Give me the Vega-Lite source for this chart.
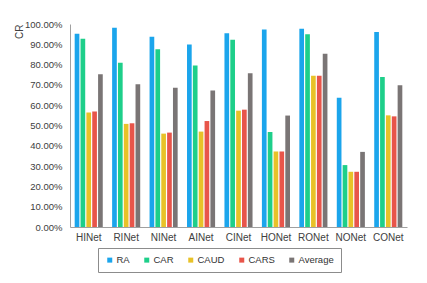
{
  "$schema": "https://vega.github.io/schema/vega-lite/v6.json",
  "autosize": "none",
  "width": 337,
  "height": 203,
  "padding": {"left": 70, "top": 24, "right": 20, "bottom": 56},
  "background": "white",
  "config": {
    "font": "Liberation Sans",
    "view": {"stroke": null},
    "axis": {"labelColor": "#404040", "domainColor": "#a0a0a0", "domainWidth": 1, "ticks": false, "grid": false, "labelFontSize": 9.5},
    "legend": {"labelColor": "#333333", "labelFontSize": 9.5}
  },
  "data": {
    "values": [
      {"net": "HINet", "metric": "RA", "value": 0.952},
      {"net": "HINet", "metric": "CAR", "value": 0.927},
      {"net": "HINet", "metric": "CAUD", "value": 0.564},
      {"net": "HINet", "metric": "CARS", "value": 0.569},
      {"net": "HINet", "metric": "Average", "value": 0.752},
      {"net": "RINet", "metric": "RA", "value": 0.981},
      {"net": "RINet", "metric": "CAR", "value": 0.809},
      {"net": "RINet", "metric": "CAUD", "value": 0.508},
      {"net": "RINet", "metric": "CARS", "value": 0.511},
      {"net": "RINet", "metric": "Average", "value": 0.703},
      {"net": "NINet", "metric": "RA", "value": 0.937},
      {"net": "NINet", "metric": "CAR", "value": 0.876},
      {"net": "NINet", "metric": "CAUD", "value": 0.460},
      {"net": "NINet", "metric": "CARS", "value": 0.465},
      {"net": "NINet", "metric": "Average", "value": 0.686},
      {"net": "AINet", "metric": "RA", "value": 0.899},
      {"net": "AINet", "metric": "CAR", "value": 0.796},
      {"net": "AINet", "metric": "CAUD", "value": 0.470},
      {"net": "AINet", "metric": "CARS", "value": 0.522},
      {"net": "AINet", "metric": "Average", "value": 0.672},
      {"net": "CINet", "metric": "RA", "value": 0.955},
      {"net": "CINet", "metric": "CAR", "value": 0.922},
      {"net": "CINet", "metric": "CAUD", "value": 0.573},
      {"net": "CINet", "metric": "CARS", "value": 0.578},
      {"net": "CINet", "metric": "Average", "value": 0.757},
      {"net": "HONet", "metric": "RA", "value": 0.973},
      {"net": "HONet", "metric": "CAR", "value": 0.468},
      {"net": "HONet", "metric": "CAUD", "value": 0.372},
      {"net": "HONet", "metric": "CARS", "value": 0.372},
      {"net": "HONet", "metric": "Average", "value": 0.549},
      {"net": "RONet", "metric": "RA", "value": 0.976},
      {"net": "RONet", "metric": "CAR", "value": 0.950},
      {"net": "RONet", "metric": "CAUD", "value": 0.745},
      {"net": "RONet", "metric": "CARS", "value": 0.745},
      {"net": "RONet", "metric": "Average", "value": 0.854},
      {"net": "NONet", "metric": "RA", "value": 0.637},
      {"net": "NONet", "metric": "CAR", "value": 0.305},
      {"net": "NONet", "metric": "CAUD", "value": 0.272},
      {"net": "NONet", "metric": "CARS", "value": 0.272},
      {"net": "NONet", "metric": "Average", "value": 0.370},
      {"net": "CONet", "metric": "RA", "value": 0.960},
      {"net": "CONet", "metric": "CAR", "value": 0.739},
      {"net": "CONet", "metric": "CAUD", "value": 0.550},
      {"net": "CONet", "metric": "CARS", "value": 0.545},
      {"net": "CONet", "metric": "Average", "value": 0.698}
    ]
  },
  "mark": {"type": "bar"},
  "encoding": {
    "x": {
      "field": "net", "type": "nominal",
      "sort": ["HINet", "RINet", "NINet", "AINet", "CINet", "HONet", "RONet", "NONet", "CONet"],
      "scale": {"paddingInner": 0.25, "paddingOuter": 0.125},
      "axis": {"title": null, "labelAngle": 0, "labelPadding": 5, "labelFontSize": 10}
    },
    "xOffset": {
      "field": "metric", "type": "nominal",
      "sort": ["RA", "CAR", "CAUD", "CARS", "Average"],
      "scale": {"paddingInner": 0.2}
    },
    "y": {
      "field": "value", "type": "quantitative",
      "scale": {"domain": [0, 1]},
      "axis": {
        "format": ".2%", "values": [0, 0.1, 0.2, 0.3, 0.4, 0.5, 0.6, 0.7, 0.8, 0.9, 1],
        "labelPadding": 8, "title": "CR", "titleAnchor": "end", "titleFontWeight": "normal",
        "titleFontSize": 10, "titleColor": "#404040", "titlePadding": 0
      }
    },
    "color": {
      "field": "metric", "type": "nominal",
      "sort": ["RA", "CAR", "CAUD", "CARS", "Average"],
      "scale": {"domain": ["RA", "CAR", "CAUD", "CARS", "Average"], "range": ["#1ba5ec", "#1ecf8a", "#e8c228", "#e8554a", "#7a7575"]},
      "legend": {
        "orient": "none", "legendX": 28, "legendY": 224, "direction": "horizontal", "columns": 5,
        "title": null, "symbolType": "square", "symbolSize": 25, "symbolOffset": 0,
        "labelOffset": 2, "columnPadding": 12, "padding": 7, "strokeColor": "#8c8c8c", "cornerRadius": 0
      }
    }
  }
}
